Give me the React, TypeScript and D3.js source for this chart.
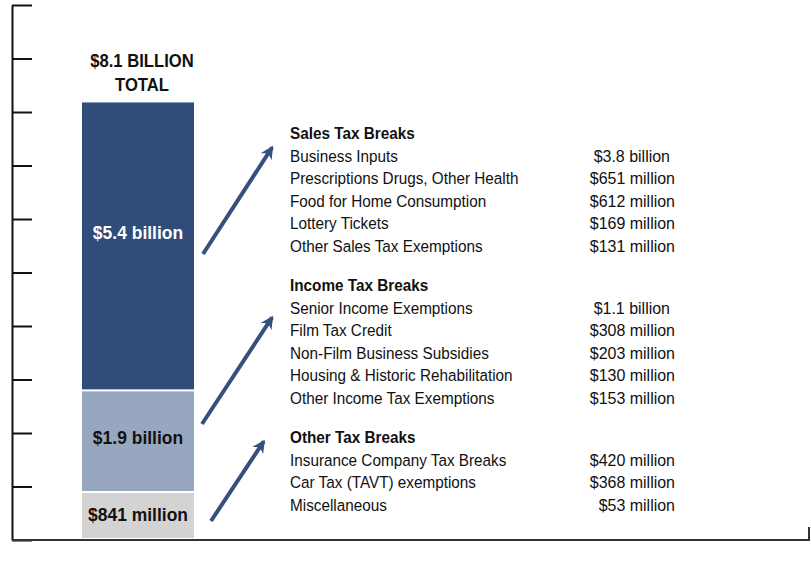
import { useEffect, useRef } from "react";
import * as d3 from "d3";

// Stacked bar, bottom to top, in billions of dollars.
const SEGMENT_KEYS = ["other", "income", "sales"];
const SEGMENT_VALUES = [0.841, 1.9, 5.4];
const SEGMENT_LABELS = ["$841 million", "$1.9 billion", "$5.4 billion"];

const SALES_ITEMS = [
  "Business Inputs",
  "Prescriptions Drugs, Other Health",
  "Food for Home Consumption",
  "Lottery Tickets",
  "Other Sales Tax Exemptions",
];
const SALES_VALUES = ["$3.8 billion", "$651 million", "$612 million", "$169 million", "$131 million"];

const INCOME_ITEMS = [
  "Senior Income Exemptions",
  "Film Tax Credit",
  "Non-Film Business Subsidies",
  "Housing & Historic Rehabilitation",
  "Other Income Tax Exemptions",
];
const INCOME_VALUES = ["$1.1 billion", "$308 million", "$203 million", "$130 million", "$153 million"];

const OTHER_ITEMS = ["Insurance Company Tax Breaks", "Car Tax (TAVT) exemptions", "Miscellaneous"];
const OTHER_VALUES = ["$420 million", "$368 million", "$53 million"];

const GROUPS = [
  { title: "Sales Tax Breaks", items: SALES_ITEMS, values: SALES_VALUES },
  { title: "Income Tax Breaks", items: INCOME_ITEMS, values: INCOME_VALUES },
  { title: "Other Tax Breaks", items: OTHER_ITEMS, values: OTHER_VALUES },
];

const Y_TICKS = d3.range(0, 11); // one tick per billion

const W = 811;
const H = 562;
const FONT = "'Liberation Sans', Arial, sans-serif";
const SX = 0.9; // squeeze to imitate a condensed face
const COLORS: Record<string, string> = { other: "#d3d3d3", income: "#97a7c0", sales: "#304c7a" };
const LABEL_COLORS: Record<string, string> = { other: "#111", income: "#111", sales: "#fff" };
const LABEL_DY = [-1, -5, -15];
const ARROW = "#34507e";

// Arrow annotations (segment side -> list header), bottom to top
const ARROWS = [
  { x1: 211, y1: 521, x2: 266, y2: 438 },
  { x1: 202, y1: 424, x2: 275, y2: 313 },
  { x1: 203, y1: 254, x2: 275, y2: 143 },
];

function T(props: {
  x: number;
  y: number;
  anchor?: string;
  size: number;
  bold?: boolean;
  fill?: string;
  sx?: number;
  children: string;
}) {
  const { x, y, anchor = "start", size, bold, fill = "#111", sx = SX, children } = props;
  return (
    <text
      transform={`translate(${x},${y}) scale(${sx},1)`}
      textAnchor={anchor}
      fontSize={size}
      fontWeight={bold ? "bold" : "normal"}
      fill={fill}
    >
      {children}
    </text>
  );
}

export default function App() {
  const axisRef = useRef<SVGGElement | null>(null);

  const y = d3.scaleLinear().domain([0, 10]).range([540, 5]);
  const x = d3.scaleBand().domain(["total"]).range([40, 236]).paddingOuter(0.375);
  const barX = x("total") ?? 0;
  const barW = x.bandwidth();

  const stackData = [Object.fromEntries(SEGMENT_KEYS.map((k, i) => [k, SEGMENT_VALUES[i]]))];
  const series = d3.stack<any>().keys(SEGMENT_KEYS)(stackData);
  const total = d3.sum(SEGMENT_VALUES);

  useEffect(() => {
    const g = d3.select(axisRef.current);
    g.selectAll("*").remove();
    g.call(
      d3
        .axisRight(y)
        .tickValues(Y_TICKS)
        .tickSize(20)
        .tickSizeOuter(0)
        .tickFormat(() => "")
    );
    g.selectAll("path, line").attr("stroke", "#111").attr("stroke-width", 2);
  }, []);

  // text layout
  const LINE = 22.5;
  const GAP = 17;
  let cy = 133;
  const groupY = GROUPS.map((gr) => {
    const start = cy;
    cy += (gr.items.length + 1) * LINE + GAP;
    return start;
  });

  return (
    <svg
      width={W}
      height={H}
      style={{ position: "absolute", left: 0, top: 0, background: "#fff" }}
      fontFamily={FONT}
    >
      <defs>
        <marker
          id="head"
          viewBox="-12 -7 14 14"
          markerWidth={14}
          markerHeight={14}
          markerUnits="userSpaceOnUse"
          orient="auto"
        >
          <path d="M-11,-6.5 L2,0 L-11,6.5 L-7,0 Z" fill={ARROW} />
        </marker>
      </defs>

      <g ref={axisRef} transform={`translate(12,0)`} />
      <path d={`M12,${y(0)}H809V${y(0) - 13}`} fill="none" stroke="#333" strokeWidth={2} />

      {series.map((s, i) => {
        const [v0, v1] = s[0];
        const top = y(v1) - 2;
        const bottom = y(v0) - 2;
        const gap = i > 0 ? 2 : 0;
        const mid = (top + bottom) / 2;
        return (
          <g key={s.key}>
            <rect x={barX} y={top} width={barW} height={bottom - top - gap} fill={COLORS[s.key]} />
            <T
              x={barX + barW / 2}
              y={mid + LABEL_DY[i] + 6.8}
              anchor="middle"
              bold
              size={19}
              sx={0.92}
              fill={LABEL_COLORS[s.key]}
            >
              {SEGMENT_LABELS[i]}
            </T>
          </g>
        );
      })}

      <T x={142} y={66.5} anchor="middle" bold size={18.5}>
        {`$${d3.format(".1f")(total)} BILLION`}
      </T>
      <T x={142} y={90.5} anchor="middle" bold size={18.5}>
        TOTAL
      </T>

      {ARROWS.map((a, i) => (
        <line
          key={i}
          x1={a.x1}
          y1={a.y1}
          x2={a.x2 - (a.x2 - a.x1) * 0.04}
          y2={a.y2 - (a.y2 - a.y1) * 0.04}
          stroke={ARROW}
          strokeWidth={4}
          markerEnd="url(#head)"
        />
      ))}

      {GROUPS.map((gr, gi) => (
        <g key={gr.title}>
          <T x={290} y={groupY[gi] + 6} bold size={17}>
            {gr.title}
          </T>
          {gr.items.map((it, j) => (
            <g key={it}>
              <T x={290} y={groupY[gi] + (j + 1) * LINE + 6} size={17}>
                {it}
              </T>
              <T
                x={gr.values[j].includes("billion") ? 670 : 675}
                y={groupY[gi] + (j + 1) * LINE + 6}
                anchor="end"
                size={17}
                sx={0.94}
              >
                {gr.values[j]}
              </T>
            </g>
          ))}
        </g>
      ))}
    </svg>
  );
}
